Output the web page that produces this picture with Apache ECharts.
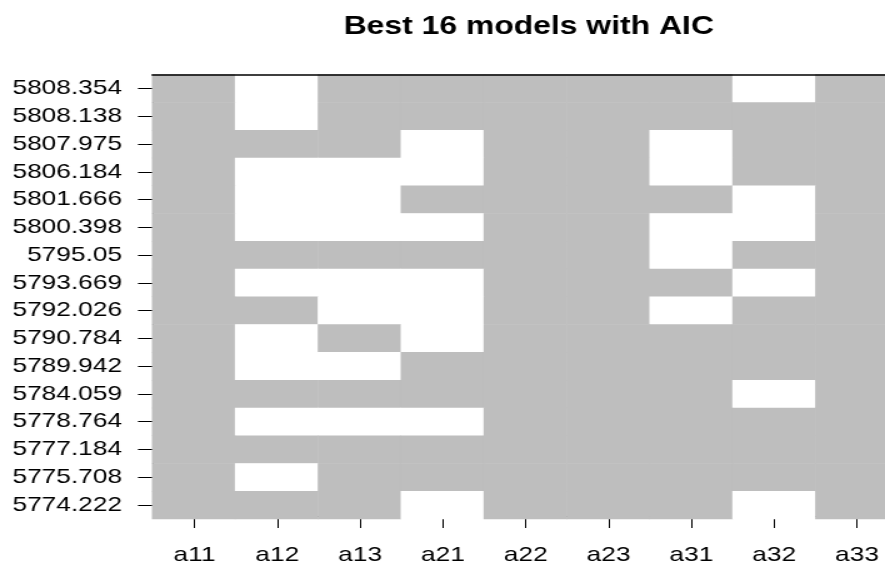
<!DOCTYPE html>
<html>
<head>
<meta charset="utf-8">
<script src="https://cdn.jsdelivr.net/npm/echarts@6/dist/echarts.min.js"></script>
<style>
  html, body { margin: 0; padding: 0; background: #fff; overflow: hidden; }
  #wrap { width: 885px; height: 566px; overflow: hidden; }
  /* the chart is laid out narrow and widened horizontally */
  #chart { width: 724px; height: 566px; transform: scaleX(1.25); transform-origin: 0 0; }
</style>
</head>
<body>
<div id="wrap"><div id="chart"></div></div>
<script>
// Candidate terms (columns)
const variables = ['a11', 'a12', 'a13', 'a21', 'a22', 'a23', 'a31', 'a32', 'a33'];

// AIC of each model, listed top row first
const aicValues = [
  5808.354, 5808.138, 5807.975, 5806.184, 5801.666, 5800.398, 5795.05, 5793.669,
  5792.026, 5790.784, 5789.942, 5784.059, 5778.764, 5777.184, 5775.708, 5774.222
];

// 1 = term in the model, 0 = term left out; one row per model, same order as aicValues
const modelTerms = [
  [1, 0, 1, 1, 1, 1, 1, 0, 1],
  [1, 0, 1, 1, 1, 1, 1, 1, 1],
  [1, 1, 1, 0, 1, 1, 0, 1, 1],
  [1, 0, 0, 0, 1, 1, 0, 1, 1],
  [1, 0, 0, 1, 1, 1, 1, 0, 1],
  [1, 0, 0, 0, 1, 1, 0, 0, 1],
  [1, 1, 1, 1, 1, 1, 0, 1, 1],
  [1, 0, 0, 0, 1, 1, 1, 0, 1],
  [1, 1, 0, 0, 1, 1, 0, 1, 1],
  [1, 0, 1, 0, 1, 1, 1, 1, 1],
  [1, 0, 0, 1, 1, 1, 1, 1, 1],
  [1, 1, 1, 1, 1, 1, 1, 0, 1],
  [1, 0, 0, 0, 1, 1, 1, 1, 1],
  [1, 1, 1, 1, 1, 1, 1, 1, 1],
  [1, 0, 1, 1, 1, 1, 1, 1, 1],
  [1, 1, 1, 0, 1, 1, 1, 0, 1]
];

const aicLabels = aicValues.map(v => String(v));

const cells = [];
modelTerms.forEach((row, r) => {
  row.forEach((v, c) => cells.push([c, r, v]));
});

const FONT = 'Liberation Sans, Arial, sans-serif';
const chart = echarts.init(document.getElementById('chart'), null, { renderer: 'canvas' });

chart.setOption({
  animation: false,
  backgroundColor: '#ffffff',
  title: {
    text: 'Best 16 models with AIC',
    left: 418,
    textAlign: 'center',
    top: 9,
    textStyle: { fontFamily: FONT, fontWeight: 'bold', fontSize: 25.5, color: '#000' }
  },
  grid: [
    // cell area
    { left: 121.8, top: 74.6, width: 596.9, height: 444.4, containLabel: false },
    // x axis, running from first to last tick
    { left: 155.6, top: 74.6, width: 530, height: 444.9, containLabel: false },
    // y axis, running from first to last tick
    { left: 122.6, top: 88.5, width: 100, height: 416.5, containLabel: false }
  ],
  xAxis: [
    {
      gridIndex: 0, type: 'category', data: variables, position: 'top', z: 10,
      axisLine: { show: true, lineStyle: { color: '#000', width: 1.5 } },
      axisTick: { show: false }, axisLabel: { show: false }, splitLine: { show: false }
    },
    {
      gridIndex: 1, type: 'category', data: variables, boundaryGap: false, position: 'bottom',
      axisLine: { show: true, lineStyle: { color: '#000', width: 1 } },
      axisTick: { show: true, length: 12, lineStyle: { color: '#000', width: 1 } },
      axisLabel: { show: true, margin: 29, fontFamily: FONT, fontSize: 21, color: '#000' },
      splitLine: { show: false }
    },
    {
      gridIndex: 2, type: 'value', show: false
    }
  ],
  yAxis: [
    {
      gridIndex: 0, type: 'category', data: aicLabels, inverse: true, show: false
    },
    {
      gridIndex: 1, type: 'value', show: false
    },
    {
      gridIndex: 2, type: 'category', data: aicLabels, inverse: true, boundaryGap: false, position: 'left',
      axisLine: { show: true, lineStyle: { color: '#000', width: 1 } },
      axisTick: { show: true, length: 12.2, lineStyle: { color: '#000', width: 1 } },
      axisLabel: { show: true, margin: 25, fontFamily: FONT, fontSize: 21, color: '#000', interval: 0 },
      splitLine: { show: false }
    }
  ],
  visualMap: {
    show: false,
    type: 'piecewise',
    dimension: 2,
    pieces: [
      { value: 0, color: '#ffffff' },
      { value: 1, color: '#bebebe' }
    ]
  },
  series: [{
    type: 'heatmap',
    xAxisIndex: 0,
    yAxisIndex: 0,
    data: cells,
    itemStyle: { borderWidth: 0 },
    emphasis: { disabled: true }
  }]
});
</script>
</body>
</html>
